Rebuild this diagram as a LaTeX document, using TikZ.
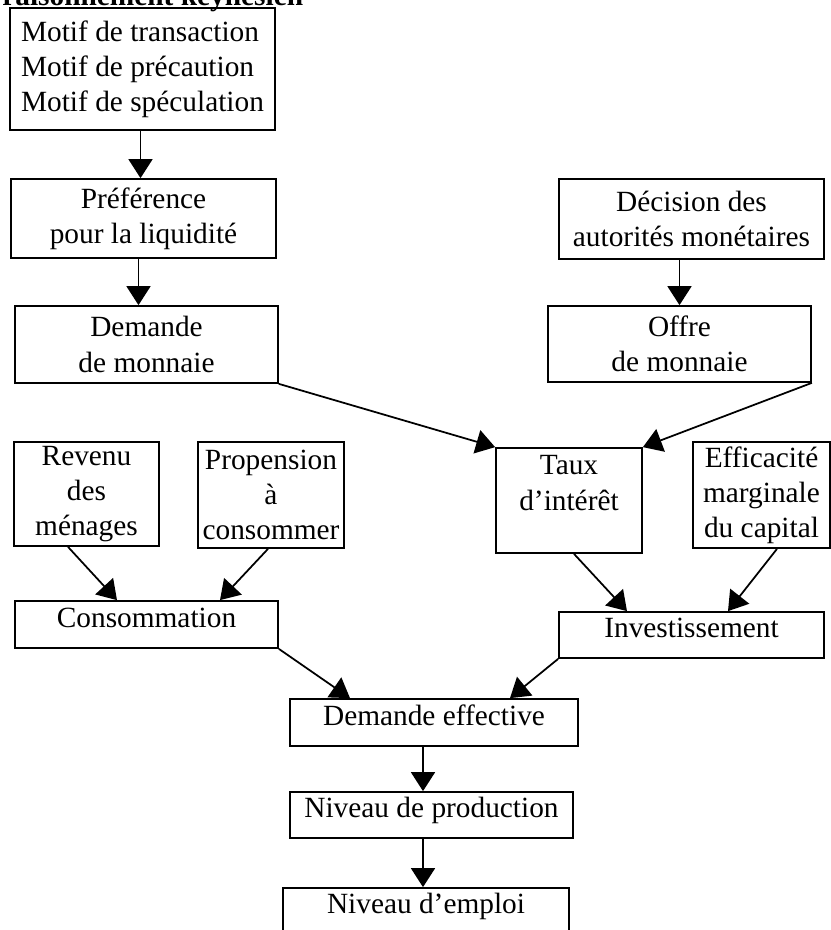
\documentclass[tikz,border=0pt]{standalone}
\usepackage{fontspec}
\setmainfont{Liberation Serif}
\usetikzlibrary{positioning,arrows.meta,calc}

\begin{document}
\begin{tikzpicture}[
    x=0.02cm, y=-0.02cm,
    box/.style={rectangle, draw=black, line width=1pt, inner sep=0pt, align=center, font=\fontsize{16.7}{20}\selectfont},
    onebox/.style={box, text height=11.6pt, text depth=8.4pt},
    arrow/.style={-{Triangle[width=0.48cm,length=0.38cm]}, line width=1pt}
]
\useasboundingbox (0,0) rectangle (831,930);
\clip (0,0) rectangle (831,930);

\node[anchor=base west, inner sep=0pt, font=\fontsize{16.7}{20}\selectfont\bfseries] (titre) at (2,5) {raisonnement keynésien};

\node[box, align=left, minimum width=5.3cm, minimum height=2.44cm] (motifs) at (142.5,69) {Motif de transaction\\Motif de précaution\\Motif de spéculation};
\node[box, minimum width=5.3cm, minimum height=1.58cm] (pref) at (143.5,218.5) {Préférence\\pour la liquidité};
\node[box, minimum width=5.26cm, minimum height=1.54cm] (demande) at (146.5,344.5) {Demande\\de monnaie};
\node[box, minimum width=5.3cm, minimum height=1.6cm] (decision) at (691.5,219) {Décision des\\autorités monétaires};
\node[box, minimum width=5.26cm, minimum height=1.52cm] (offre) at (679.5,344) {Offre\\de monnaie};

\node[box, minimum width=2.9cm, minimum height=2.08cm] (revenu) at (86.5,494) {Revenu\\des\\ménages};
\node[box, minimum width=2.92cm, minimum height=2.12cm] (propension) at (271,495) {Propension\\à\\consommer};
\node[box, minimum width=2.92cm, minimum height=2.1cm] (taux) at (569,500.5) {Taux\\d’intérêt\\\mbox{}};
\node[box, minimum width=2.74cm, minimum height=2.12cm] (effic) at (761.5,495) {Efficacité\\marginale\\du capital};

\node[onebox, minimum width=5.26cm, minimum height=0.94cm] (conso) at (146.5,624.5) {Consommation};
\node[onebox, minimum width=5.3cm, minimum height=0.92cm] (invest) at (691.5,635) {Investissement};
\node[onebox, minimum width=5.76cm, minimum height=0.94cm] (demeff) at (434,722.5) {Demande effective};
\node[onebox, minimum width=5.66cm, minimum height=0.92cm] (prod) at (431.5,815) {Niveau de production};
\node[onebox, minimum width=5.72cm, minimum height=0.92cm] (emploi) at (426,911) {Niveau d’emploi};

\draw[arrow] ($(motifs.south)+(-2,0)$) -- ($(pref.north)+(-3,0)$);
\draw[arrow] ($(pref.south)+(-5,0)$) -- ($(demande.north)+(-8,0)$);
\draw[arrow] ($(decision.south)+(-12,0)$) -- (offre.north);
\draw[arrow] (demande.south east) -- (taux.north west);
\draw[arrow] (offre.south east) -- (taux.north east);
\draw[arrow] ($(revenu.south)+(-18.5,0)$) -- ($(conso.north)+(-29.5,0)$);
\draw[arrow] ($(propension.south)+(-3,0)$) -- ($(conso.north)+(73.5,0)$);
\draw[arrow] ($(taux.south)+(5,0)$) -- ($(invest.north)+(-64.5,0)$);
\draw[arrow] ($(effic.south)+(15.5,0)$) -- ($(invest.north)+(36.5,0)$);
\draw[arrow] (conso.south east) -- ($(demeff.north)+(-84,0)$);
\draw[arrow] (invest.south west) -- ($(demeff.north)+(76,0)$);
\draw[arrow] ($(demeff.south)+(-11,0)$) -- ($(prod.north)+(-8.5,0)$);
\draw[arrow] ($(prod.south)+(-8.5,0)$) -- ($(emploi.north)+(-3,0)$);

\end{tikzpicture}
\end{document}
